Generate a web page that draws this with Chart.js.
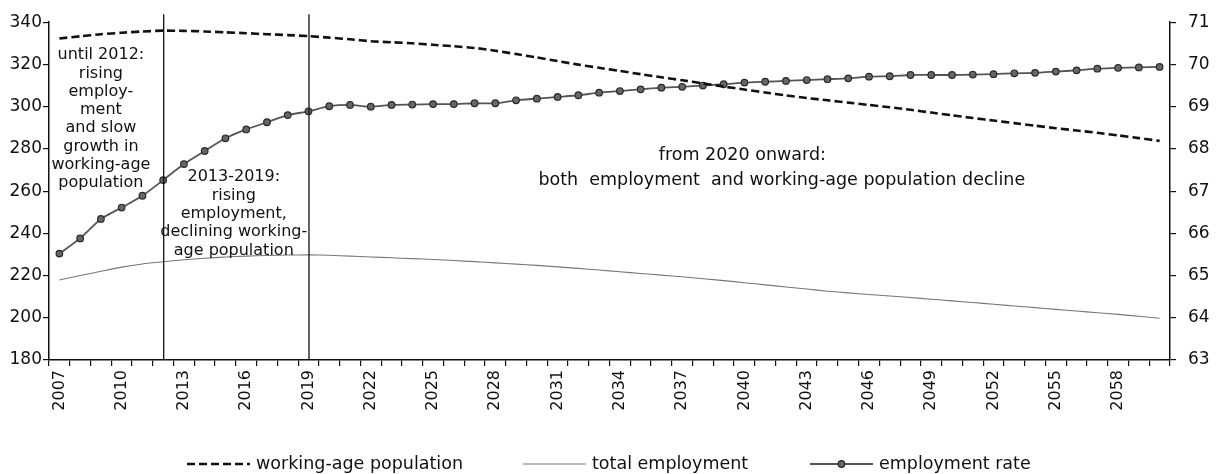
<!DOCTYPE html>
<html>
<head>
<meta charset="utf-8">
<script src="https://cdn.jsdelivr.net/npm/chart.js@4.4.1/dist/chart.umd.min.js"></script>
<style>
  html, body { margin: 0; padding: 0; background: #fff; }
  #wrap { width: 1217px; height: 474px; }
</style>
</head>
<body>
<div id="wrap"><canvas id="chart" width="1217" height="474"></canvas></div>
<script>
// years on the x axis
const years = [
  2007, 2008, 2009, 2010, 2011, 2012, 2013, 2014, 2015, 2016,
  2017, 2018, 2019, 2020, 2021, 2022, 2023, 2024, 2025, 2026,
  2027, 2028, 2029, 2030, 2031, 2032, 2033, 2034, 2035, 2036,
  2037, 2038, 2039, 2040, 2041, 2042, 2043, 2044, 2045, 2046,
  2047, 2048, 2049, 2050, 2051, 2052, 2053, 2054, 2055, 2056,
  2057, 2058, 2059, 2060
];

// left axis
const workingAgePopulation = [
  332.3, 333.3, 334.3, 335.0, 335.6, 336.0, 335.9, 335.6, 335.2, 334.8,
  334.3, 333.9, 333.4, 332.7, 331.9, 331.0, 330.5, 330.0, 329.3, 328.6,
  327.8, 326.5, 324.9, 323.3, 321.6, 319.9, 318.4, 316.9, 315.4, 313.9,
  312.5, 311.0, 309.5, 308.1, 306.7, 305.3, 304.1, 303.0, 301.9, 300.8,
  299.7, 298.5, 297.2, 295.9, 294.6, 293.4, 292.2, 291.0, 289.8, 288.7,
  287.6, 286.4, 285.1, 283.8
];
const totalEmployment = [
  217.9, 220.0, 222.0, 224.0, 225.5, 226.5, 227.5, 228.2, 228.8, 229.2,
  229.5, 229.7, 229.8, 229.6, 229.2, 228.8, 228.4, 228.0, 227.6, 227.1,
  226.6, 226.0, 225.4, 224.8, 224.1, 223.4, 222.6, 221.8, 221.0, 220.2,
  219.4, 218.5, 217.6, 216.6, 215.6, 214.6, 213.6, 212.6, 211.8, 211.0,
  210.3, 209.6, 208.8, 208.0, 207.2, 206.4, 205.6, 204.8, 204.0, 203.2,
  202.4, 201.6, 200.7, 199.8
];
// right axis (%)
const employmentRate = [
  65.52, 65.88, 66.34, 66.61, 66.89, 67.26, 67.64, 67.95, 68.25, 68.46,
  68.63, 68.80, 68.89, 69.01, 69.04, 69.00, 69.04, 69.05, 69.06, 69.06,
  69.08, 69.08, 69.15, 69.19, 69.23, 69.27, 69.33, 69.37, 69.41, 69.45,
  69.47, 69.50, 69.53, 69.57, 69.59, 69.61, 69.63, 69.65, 69.67, 69.71,
  69.72, 69.75, 69.75, 69.75, 69.76, 69.77, 69.79, 69.80, 69.83, 69.86,
  69.90, 69.92, 69.93, 69.94
];

const leftTicks = [180, 200, 220, 240, 260, 280, 300, 320, 340];
const rightTicks = [63, 64, 65, 66, 67, 68, 69, 70, 71];
const periodBreaks = [2012, 2019];

const notes = [
  { year: 2009, value: 324.4, size: 16, lines: ['until 2012:', 'rising', 'employ-', 'ment', 'and slow', 'growth in', 'working-age', 'population'] },
  { year: 2015.4, value: 266.6, size: 16, lines: ['2013-2019:', 'rising', 'employment,', 'declining working-', 'age population'] },
  { year: 2039.9, value: 277, size: 17.5, lines: ['from 2020 onward:'] },
  { year: 2041.8, value: 265.2, size: 17.5, lines: ['both  employment  and working-age population decline'] }
];

const FONT = '"DejaVu Sans", sans-serif';

const annotationPlugin = {
  id: 'annotations',
  afterDatasetsDraw(chart) {
    const { ctx, chartArea, scales } = chart;
    const x = scales.x, y = scales.y;
    ctx.save();
    ctx.strokeStyle = '#111';
    ctx.lineWidth = 1.3;
    periodBreaks.forEach(yr => {
      const px = x.getPixelForValue(years.indexOf(yr)) + 0.5;
      ctx.beginPath();
      ctx.moveTo(px, chartArea.top - 8);
      ctx.lineTo(px, chartArea.bottom);
      ctx.stroke();
    });
    ctx.fillStyle = '#111';
    ctx.textAlign = 'center';
    ctx.textBaseline = 'middle';
    notes.forEach(n => {
      const px = x.getPixelForValue(n.year - years[0]);
      const py = y.getPixelForValue(n.value);
      ctx.font = n.size + 'px ' + FONT;
      n.lines.forEach((t, i) => ctx.fillText(t, px, py + i * 18.3));
    });
    ctx.restore();
  }
};

const legendPlugin = {
  id: 'customLegend',
  afterDraw(chart) {
    const { ctx } = chart;
    const starts = [187, 523, 810];
    const cy = 464, w = 63;
    ctx.save();
    ctx.font = '17.5px ' + FONT;
    ctx.textBaseline = 'middle';
    ctx.textAlign = 'left';
    chart.data.datasets.forEach((ds, i) => {
      const x0 = starts[i];
      ctx.strokeStyle = ds.borderColor;
      ctx.lineWidth = ds.borderWidth;
      ctx.setLineDash(ds.borderDash || []);
      ctx.beginPath();
      ctx.moveTo(x0, cy);
      ctx.lineTo(x0 + w, cy);
      ctx.stroke();
      ctx.setLineDash([]);
      if (ds.pointRadius) {
        ctx.fillStyle = ds.pointBackgroundColor;
        ctx.strokeStyle = ds.pointBorderColor;
        ctx.lineWidth = ds.pointBorderWidth;
        ctx.beginPath();
        ctx.arc(x0 + w / 2, cy, ds.pointRadius, 0, Math.PI * 2);
        ctx.fill();
        ctx.stroke();
      }
      ctx.fillStyle = '#111';
      ctx.fillText(ds.label, x0 + w + 6, cy);
    });
    ctx.restore();
  }
};

new Chart(document.getElementById('chart'), {
  type: 'line',
  data: {
    labels: years,
    datasets: [
      { label: 'working-age population', data: workingAgePopulation, yAxisID: 'y',
        borderColor: '#111', borderWidth: 2.6, borderDash: [8, 4], pointRadius: 0, tension: 0.2 },
      { label: 'total employment', data: totalEmployment, yAxisID: 'y',
        borderColor: '#777', borderWidth: 1.1, pointRadius: 0, tension: 0.2 },
      { label: 'employment rate', data: employmentRate, yAxisID: 'y1',
        borderColor: '#555', borderWidth: 1.8, pointRadius: 3.3, pointBackgroundColor: '#666',
        pointBorderColor: '#2a2a2a', pointBorderWidth: 1.2, tension: 0.2 }
    ]
  },
  options: {
    responsive: false,
    animation: false,
    devicePixelRatio: 1,
    layout: { padding: { top: 22, bottom: 54, left: 0, right: 0 } },
    plugins: { legend: { display: false }, tooltip: { enabled: false } },
    scales: {
      x: {
        offset: true,
        grid: { display: true, drawOnChartArea: false, offset: true, color: '#111', lineWidth: 1.2, tickLength: 6 },
        border: { color: '#111', width: 1.5 },
        ticks: {
          autoSkip: false, maxRotation: 90, minRotation: 90, padding: 4,
          color: '#111', font: { family: FONT, size: 16 },
          callback: (v, i) => ((years[i] - years[0]) % 3 === 0 ? String(years[i]) : '')
        },
        afterFit: s => { s.height = 60; }
      },
      y: {
        position: 'left', min: 180, max: 340,
        afterBuildTicks: s => { s.ticks = leftTicks.map(v => ({ value: v })); },
        grid: { display: true, drawOnChartArea: false, color: '#111', lineWidth: 1.2, tickLength: 6 },
        border: { color: '#111', width: 1.5 },
        ticks: { color: '#111', padding: 1, font: { family: FONT, size: 17 } },
        afterFit: s => { s.width = 49; }
      },
      y1: {
        position: 'right', min: 63, max: 71,
        afterBuildTicks: s => { s.ticks = rightTicks.map(v => ({ value: v })); },
        grid: { display: true, drawOnChartArea: false, color: '#111', lineWidth: 1.2, tickLength: 6 },
        border: { color: '#111', width: 1.5 },
        ticks: { color: '#111', padding: 12, font: { family: FONT, size: 17 } },
        afterFit: s => { s.width = 47; }
      }
    }
  },
  plugins: [annotationPlugin, legendPlugin]
});
</script>
</body>
</html>
